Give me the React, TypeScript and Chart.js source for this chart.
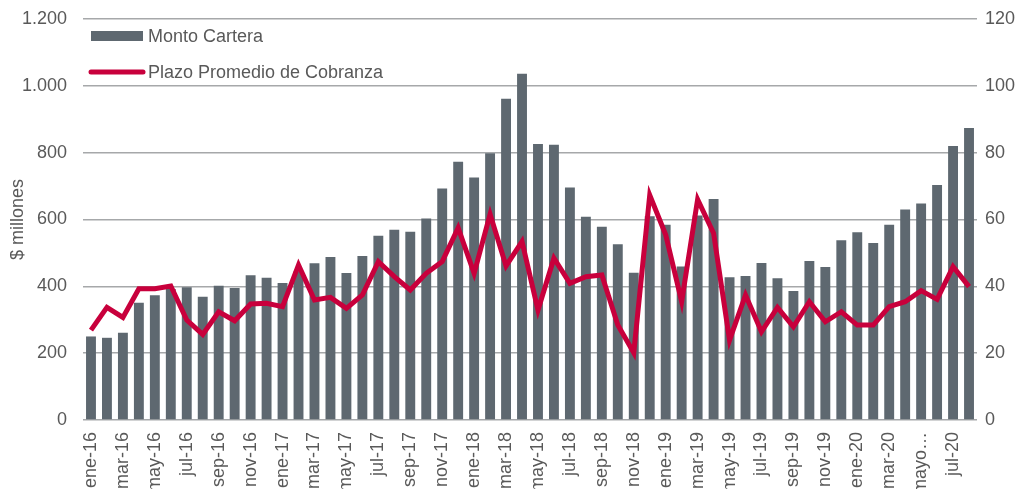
import React, { useEffect, useRef } from "react";
import { Chart, registerables } from "chart.js";

Chart.register(...registerables);

const categories = [
  "ene-16", "feb-16", "mar-16", "abr-16", "may-16", "jun-16", "jul-16", "ago-16", "sep-16", "oct-16", "nov-16", "dic-16",
  "ene-17", "feb-17", "mar-17", "abr-17", "may-17", "jun-17", "jul-17", "ago-17", "sep-17", "oct-17", "nov-17", "dic-17",
  "ene-18", "feb-18", "mar-18", "abr-18", "may-18", "jun-18", "jul-18", "ago-18", "sep-18", "oct-18", "nov-18", "dic-18",
  "ene-19", "feb-19", "mar-19", "abr-19", "may-19", "jun-19", "jul-19", "ago-19", "sep-19", "oct-19", "nov-19", "dic-19",
  "ene-20", "feb-20", "mar-20", "abr-20", "mayo…", "jun-20", "jul-20", "ago-20",
];

const montoCartera = [
  250, 246, 261, 351, 373, 392, 397, 369, 402, 395, 433, 426,
  410, 445, 469, 488, 440, 491, 551, 569, 563, 603, 693, 773,
  726, 798, 961, 1036, 826, 824, 696, 608, 578, 526, 441, 610,
  584, 459, 612, 661, 427, 431, 470, 424, 386, 476, 458, 538,
  562, 530, 584, 630, 648, 703, 820, 874,
];

const plazoPromedio = [
  26.9, 33.7, 30.7, 39.3, 39.3, 40.1, 29.9, 25.6, 32.4, 29.7, 34.7, 34.9,
  33.9, 46.4, 35.9, 36.7, 33.4, 37.4, 47.4, 42.9, 38.9, 43.9, 47.4, 57.5,
  43.9, 61.6, 46.1, 53.4, 32.9, 48.4, 40.9, 42.9, 43.4, 28.4, 20.1, 67.3,
  55.4, 35.4, 66.0, 55.9, 23.9, 37.4, 26.4, 33.7, 27.9, 35.4, 29.4, 32.4,
  28.4, 28.4, 33.9, 35.4, 38.7, 36.1, 45.9, 39.9,
];

const seriesNames = ["Monto Cartera", "Plazo Promedio de Cobranza"];

const FONT = "'Liberation Sans', Arial, sans-serif";
const TEXT = "#595959";
const BAR = "#5E6870";
const LINE = "#C8003C";
const GRID = "#A6A8AA";

const legendPlugin = {
  id: "insideLegend",
  afterDraw(chart: any) {
    const { ctx, chartArea } = chart;
    const left = chartArea.left;
    ctx.save();
    ctx.font = `18px ${FONT}`;
    ctx.textBaseline = "middle";
    ctx.fillStyle = BAR;
    ctx.fillRect(left + 8, 31, 52, 10);
    ctx.fillStyle = TEXT;
    ctx.fillText(chart.data.datasets[0].label, left + 65, 37);
    ctx.strokeStyle = LINE;
    ctx.lineWidth = 5;
    ctx.lineCap = "round";
    ctx.beginPath();
    ctx.moveTo(left + 8, 72);
    ctx.lineTo(left + 60, 72);
    ctx.stroke();
    ctx.fillText(chart.data.datasets[1].label, left + 65, 73);
    ctx.restore();
  },
};

export default function App() {
  const ref = useRef<HTMLCanvasElement>(null);
  useEffect(() => {
    document.body.style.margin = "0";
    const chart = new Chart(ref.current as HTMLCanvasElement, {
      type: "bar",
      data: {
        labels: categories,
        datasets: [
          {
            type: "bar",
            label: seriesNames[0],
            data: montoCartera,
            backgroundColor: BAR,
            barPercentage: 0.62,
            categoryPercentage: 1,
            yAxisID: "y",
            order: 1,
          },
          {
            type: "line",
            label: seriesNames[1],
            data: plazoPromedio,
            borderColor: LINE,
            borderWidth: 5,
            pointRadius: 0,
            tension: 0,
            yAxisID: "y1",
            order: 0,
          } as any,
        ],
      },
      options: {
        responsive: false,
        animation: false,
        layout: { padding: { top: 19, left: 0, right: 0, bottom: 0 } },
        plugins: { legend: { display: false }, tooltip: { enabled: false } },
        scales: {
          x: {
            offset: true,
            grid: { display: false },
            border: { display: false },
            ticks: {
              autoSkip: false,
              maxRotation: 90,
              minRotation: 90,
              padding: 4,
              color: TEXT,
              font: { family: FONT, size: 18 },
              callback: (_v: any, i: number) => (i % 2 === 0 ? categories[i] : ""),
            },
            afterFit: (s: any) => {
              s.height = 69;
            },
          },
          y: {
            position: "left",
            min: 0,
            max: 1200,
            ticks: {
              stepSize: 200,
              padding: 8,
              color: TEXT,
              font: { family: FONT, size: 18 },
              callback: (v: any) => String(v).replace(/\B(?=(\d{3})+(?!\d))/g, "."),
            },
            grid: { color: GRID, lineWidth: 1.5, drawTicks: true, tickLength: 8, tickColor: "rgba(0,0,0,0)" },
            border: { display: false },
            title: {
              display: true,
              text: "$ millones",
              color: TEXT,
              font: { family: FONT, size: 18 },
              padding: { top: 7, bottom: 0 },
            },
            afterFit: (s: any) => {
              s.width = 83;
            },
          },
          y1: {
            position: "right",
            min: 0,
            max: 120,
            ticks: {
              stepSize: 20,
              padding: 8,
              color: TEXT,
              font: { family: FONT, size: 18 },
            },
            grid: { display: false, drawTicks: false },
            border: { display: false },
            afterFit: (s: any) => {
              s.width = 51;
            },
          },
        },
      } as any,
      plugins: [legendPlugin],
    });
    return () => chart.destroy();
  }, []);
  return (
    <div style={{ width: 1028, height: 489 }}>
      <canvas ref={ref} width={1028} height={489} />
    </div>
  );
}
